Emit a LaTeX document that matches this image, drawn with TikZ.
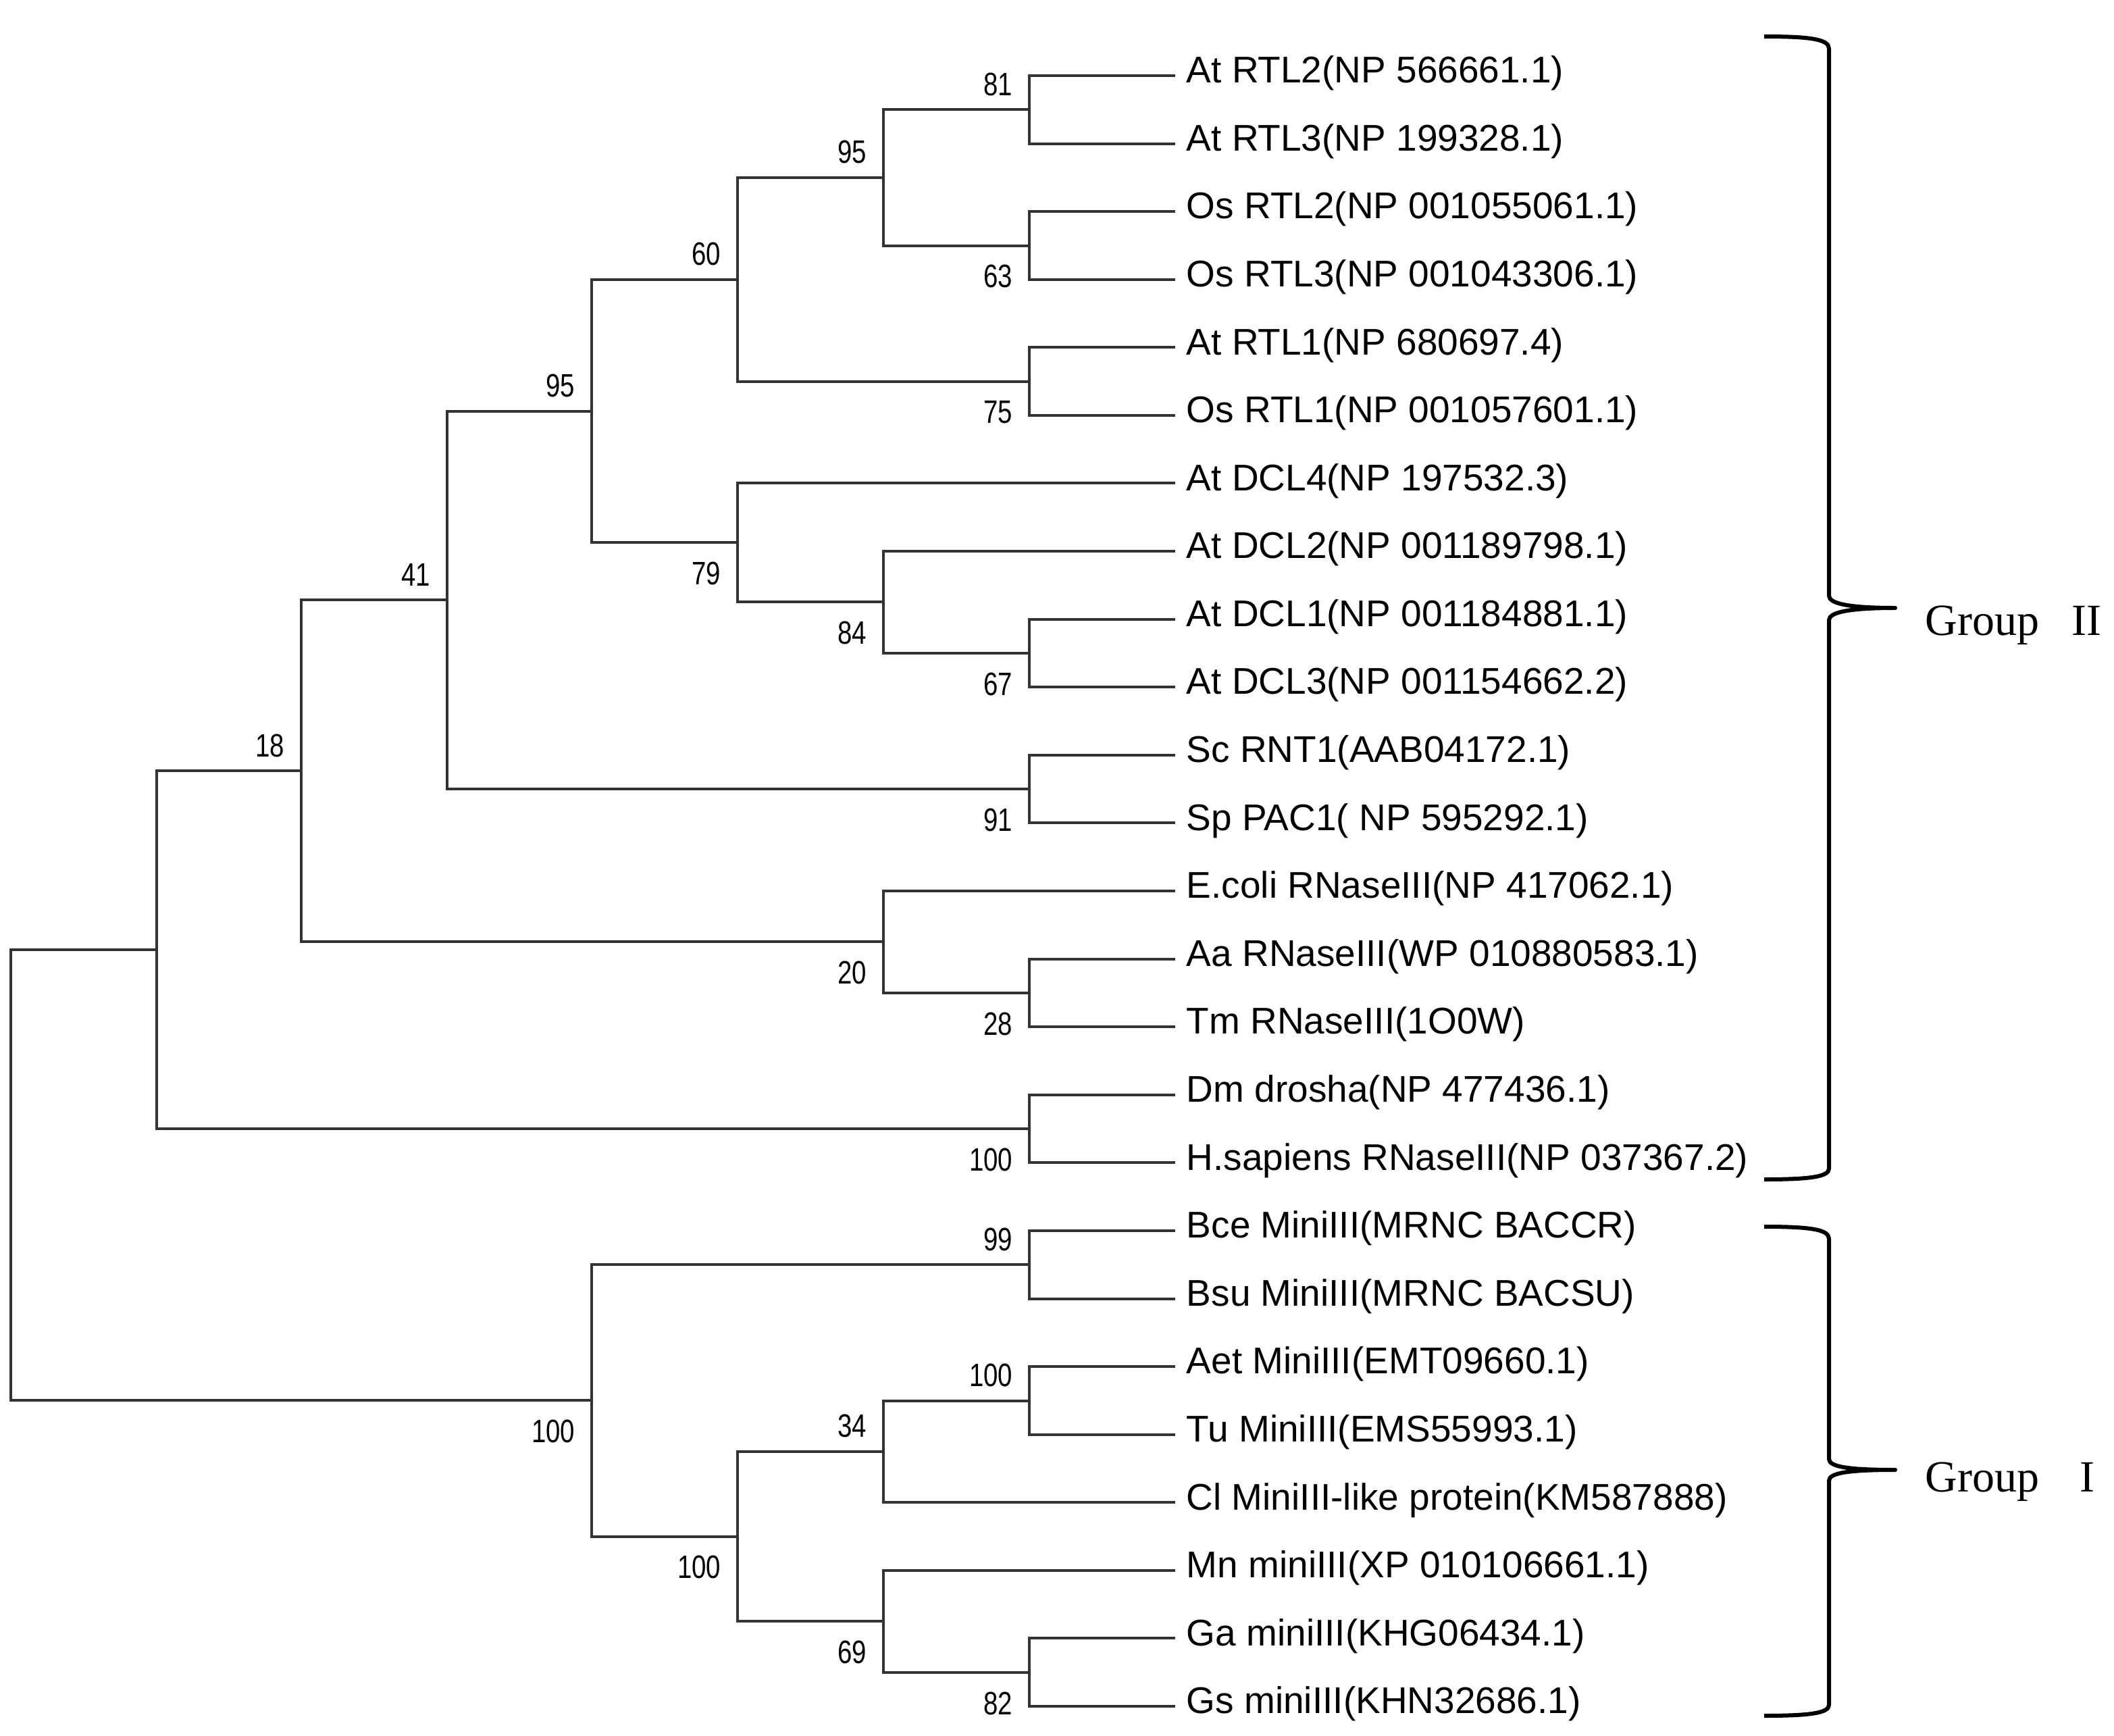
\documentclass[tikz,border=0pt]{standalone}
\usepackage{fontspec}
\setmainfont{Liberation Sans}
\newfontfamily\bootfont[FakeStretch=0.8]{Liberation Sans}
\newfontfamily\groupfont{Liberation Serif}
\usepackage{tikz}

\begin{document}
\begin{tikzpicture}[x=0.5pt, y=-0.5pt,
		branch/.style={line width=1pt, draw=black!80},
		taxon/.style={anchor=west, inner xsep=4pt, inner ysep=0pt, text height=0.74em, text depth=0.21em, font=\fontsize{13.75}{16}\selectfont},
		bootup/.style={anchor=south east, inner sep=0pt, xshift=-6pt, yshift=5pt, font=\bootfont\fontsize{12}{14}\selectfont},
		bootdown/.style={anchor=north east, inner sep=0pt, xshift=-6pt, yshift=-7pt, font=\bootfont\fontsize{12}{14}\selectfont},
		brace/.style={line width=1.5pt, line join=round},
		grouplabel/.style={anchor=base west, inner sep=0pt, font=\groupfont\fontsize{16.5}{20}\selectfont}]
		\useasboundingbox (0,0) rectangle (1565,1285);
		
		\node[taxon] (l1) at (870,56) {At RTL2(NP 566661.1)};
		\node[taxon] (l2) at (870,106.3) {At RTL3(NP 199328.1)};
		\node[taxon] (l3) at (870,156.6) {Os RTL2(NP 001055061.1)};
		\node[taxon] (l4) at (870,206.9) {Os RTL3(NP 001043306.1)};
		\node[taxon] (l5) at (870,257.2) {At RTL1(NP 680697.4)};
		\node[taxon] (l6) at (870,307.5) {Os RTL1(NP 001057601.1)};
		\node[taxon] (l7) at (870,357.7) {At DCL4(NP 197532.3)};
		\node[taxon] (l8) at (870,408) {At DCL2(NP 001189798.1)};
		\node[taxon] (l9) at (870,458.3) {At DCL1(NP 001184881.1)};
		\node[taxon] (l10) at (870,508.6) {At DCL3(NP 001154662.2)};
		\node[taxon] (l11) at (870,558.9) {Sc RNT1(AAB04172.1)};
		\node[taxon] (l12) at (870,609.2) {Sp PAC1( NP 595292.1)};
		\node[taxon] (l13) at (870,659.5) {E.coli RNaseIII(NP 417062.1)};
		\node[taxon] (l14) at (870,709.8) {Aa RNaseIII(WP 010880583.1)};
		\node[taxon] (l15) at (870,760.1) {Tm RNaseIII(1O0W)};
		\node[taxon] (l16) at (870,810.4) {Dm drosha(NP 477436.1)};
		\node[taxon] (l17) at (870,860.7) {H.sapiens RNaseIII(NP 037367.2)};
		\node[taxon] (l18) at (870,911) {Bce MiniIII(MRNC BACCR)};
		\node[taxon] (l19) at (870,961.3) {Bsu MiniIII(MRNC BACSU)};
		\node[taxon] (l20) at (870,1011.6) {Aet MiniIII(EMT09660.1)};
		\node[taxon] (l21) at (870,1061.9) {Tu MiniIII(EMS55993.1)};
		\node[taxon] (l22) at (870,1112.2) {Cl MiniIII-like protein(KM587888)};
		\node[taxon] (l23) at (870,1162.4) {Mn miniIII(XP 010106661.1)};
		\node[taxon] (l24) at (870,1212.7) {Ga miniIII(KHG06434.1)};
		\node[taxon] (l25) at (870,1263) {Gs miniIII(KHN32686.1)};
		
		\coordinate (rtlAt23) at (762,81.15);
		\coordinate (rtlOs23) at (762,181.75);
		\coordinate (rtl23) at (654,131.45);
		\coordinate (rtl1) at (762,282.35);
		\coordinate (rtl) at (546,206.9);
		\coordinate (dcl13) at (762,483.45);
		\coordinate (dcl123) at (654,445.7);
		\coordinate (dcl) at (546,401.7);
		\coordinate (plant) at (438,304.3);
		\coordinate (fungi) at (762,584.05);
		\coordinate (euk) at (331,444.2);
		\coordinate (bact3) at (762,734.95);
		\coordinate (bact) at (654,697.2);
		\coordinate (rnase) at (223,570.7);
		\coordinate (drosha) at (762,835.55);
		\coordinate (grpII) at (116,703.1);
		\coordinate (bacmini) at (762,936.15);
		\coordinate (grass) at (762,1036.75);
		\coordinate (monocot) at (654,1074.5);
		\coordinate (gossyp) at (762,1237.85);
		\coordinate (dicot) at (654,1200.1);
		\coordinate (plantmini) at (546,1137.3);
		\coordinate (grpI) at (438,1036.7);
		\coordinate (root) at (8,869.9);
		
		\draw[branch] (rtlAt23) |- (l1.west) (rtlAt23) |- (l2.west);
		\draw[branch] (rtlOs23) |- (l3.west) (rtlOs23) |- (l4.west);
		\draw[branch] (rtl23) |- (rtlAt23) (rtl23) |- (rtlOs23);
		\draw[branch] (rtl1) |- (l5.west) (rtl1) |- (l6.west);
		\draw[branch] (rtl) |- (rtl23) (rtl) |- (rtl1);
		\draw[branch] (dcl13) |- (l9.west) (dcl13) |- (l10.west);
		\draw[branch] (dcl123) |- (l8.west) (dcl123) |- (dcl13);
		\draw[branch] (dcl) |- (l7.west) (dcl) |- (dcl123);
		\draw[branch] (plant) |- (rtl) (plant) |- (dcl);
		\draw[branch] (fungi) |- (l11.west) (fungi) |- (l12.west);
		\draw[branch] (euk) |- (plant) (euk) |- (fungi);
		\draw[branch] (bact3) |- (l14.west) (bact3) |- (l15.west);
		\draw[branch] (bact) |- (l13.west) (bact) |- (bact3);
		\draw[branch] (rnase) |- (euk) (rnase) |- (bact);
		\draw[branch] (drosha) |- (l16.west) (drosha) |- (l17.west);
		\draw[branch] (grpII) |- (rnase) (grpII) |- (drosha);
		\draw[branch] (bacmini) |- (l18.west) (bacmini) |- (l19.west);
		\draw[branch] (grass) |- (l20.west) (grass) |- (l21.west);
		\draw[branch] (monocot) |- (grass) (monocot) |- (l22.west);
		\draw[branch] (gossyp) |- (l24.west) (gossyp) |- (l25.west);
		\draw[branch] (dicot) |- (l23.west) (dicot) |- (gossyp);
		\draw[branch] (plantmini) |- (monocot) (plantmini) |- (dicot);
		\draw[branch] (grpI) |- (bacmini) (grpI) |- (plantmini);
		\draw[branch] (root) |- (grpII) (root) |- (grpI);
		
		\node[bootup] at (rtlAt23) {81};
		\node[bootdown] at (rtlOs23) {63};
		\node[bootup] at (rtl23) {95};
		\node[bootdown] at (rtl1) {75};
		\node[bootup] at (rtl) {60};
		\node[bootdown] at (dcl13) {67};
		\node[bootdown] at (dcl123) {84};
		\node[bootdown] at (dcl) {79};
		\node[bootup] at (plant) {95};
		\node[bootdown] at (fungi) {91};
		\node[bootup] at (euk) {41};
		\node[bootdown] at (bact3) {28};
		\node[bootdown] at (bact) {20};
		\node[bootup] at (rnase) {18};
		\node[bootdown] at (drosha) {100};
		\node[bootup] at (bacmini) {99};
		\node[bootup] at (grass) {100};
		\node[bootup] at (monocot) {34};
		\node[bootdown] at (gossyp) {82};
		\node[bootdown] at (dicot) {69};
		\node[bootdown] at (plantmini) {100};
		\node[bootdown] at (grpI) {100};
		
		\draw[brace] (1306,27) .. controls (1340,27) and (1354,29) .. (1354,36) -- (1354,441)
		.. controls (1354,447) and (1370,450) .. (1403,450)
		.. controls (1370,450) and (1354,453) .. (1354,459) -- (1354,865)
		.. controls (1354,871) and (1340,873) .. (1306,873);
		\draw[brace] (1306,908) .. controls (1340,908) and (1354,910) .. (1354,917) -- (1354,1080)
		.. controls (1354,1086) and (1370,1088) .. (1403,1088)
		.. controls (1370,1088) and (1354,1090) .. (1354,1096) -- (1354,1262)
		.. controls (1354,1268) and (1340,1270) .. (1306,1270);
		
		\node[grouplabel] (g2) at (1425,470) {Group\hspace{12pt}II};
		\node[grouplabel] (g1) at (1425,1104) {Group\hspace{15pt}I};
		
	\end{tikzpicture}
\end{document}
